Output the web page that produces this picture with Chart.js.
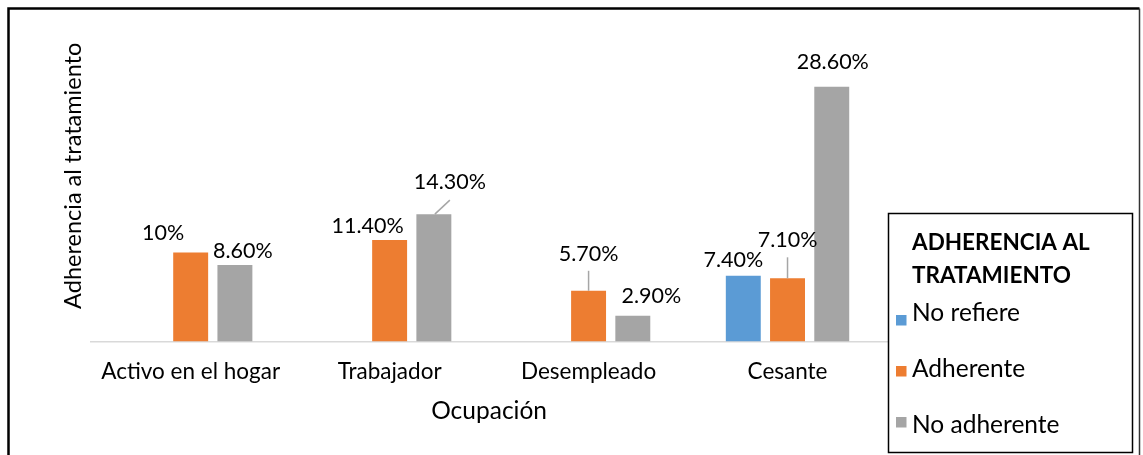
<!DOCTYPE html>
<html>
<head>
<meta charset="utf-8">
<script src="https://cdn.jsdelivr.net/npm/chart.js@4.4.1/dist/chart.umd.min.js"></script>
<style>
html,body{margin:0;padding:0;background:#fff;}
#wrap{position:relative;width:1143px;height:455px;}
</style>
</head>
<body>
<div id="wrap"><canvas id="c" width="1143" height="455"></canvas></div>
<script>
// ---- data ----
const categories = ['Activo en el hogar', 'Trabajador', 'Desempleado', 'Cesante'];
const seriesNames = ['No refiere', 'Adherente', 'No adherente'];
const noRefiere = [null, null, null, 7.4];
const adherente = [10, 11.4, 5.7, 7.1];
const noAdherente = [8.6, 14.3, 2.9, 28.6];
const noRefiereLabels = ['', '', '', '7.40%'];
const adherenteLabels = ['10%', '11.40%', '5.70%', '7.10%'];
const noAdherenteLabels = ['8.60%', '14.30%', '2.90%', '28.60%'];
const legendTitle = ['ADHERENCIA AL', 'TRATAMIENTO'];
const xTitle = 'Ocupación';
const yTitle = 'Adherencia al tratamiento';

// ---- style ----
const FONT = "Lato, 'Open Sans', sans-serif";
const FS = 22.5;      // category labels, legend title
const FS_LBL = 21.5;  // data labels
const FS_XT = 24.5;   // x title
const FS_YT = 23.5;   // y title
const FS_LEG = 24.5;  // legend items
const COLORS = ['#5B9BD5', '#ED7D31', '#A5A5A5'];
// label offsets relative to bar top-centre (dx, dy of baseline), optional leader line
const labelStyle = [
  [null, null, null, {dx: -10, dy: -9}],
  [{dx: -27.5, dy: -12}, {dx: -22, dy: -7}, {dx: 0, dy: -30, leader: [0, 0, 0, -20]}, {dx: 0, dy: -31, leader: [0, 0, 0, -21]}],
  [{dx: 8, dy: -7}, {dx: 16, dy: -25, leader: [1, 0, 16, -14]}, {dx: 18.5, dy: -12.6}, {dx: 1, dy: -18}]
];
const allLabels = [noRefiereLabels, adherenteLabels, noAdherenteLabels];

const decor = {
  id: 'decor',
  beforeDraw(chart) {
    const c = chart.ctx;
    c.save();
    c.fillStyle = '#fff';
    c.fillRect(0, 0, chart.width, chart.height);
    c.strokeStyle = '#000';
    c.lineWidth = 2.5;
    c.beginPath();
    c.moveTo(8.5, chart.height + 2); c.lineTo(8.5, 8.5); c.lineTo(1139.5, 8.5);
    c.stroke();
    c.lineWidth = 1.5;
    c.strokeStyle = '#333';
    c.beginPath();
    c.moveTo(1139.5, 8.5); c.lineTo(1139.5, chart.height + 2);
    c.stroke();
    c.restore();
  },
  afterDatasetsDraw(chart) {
    const c = chart.ctx;
    c.save();
    c.font = FS_LBL + 'px ' + FONT;
    c.fillStyle = '#000';
    c.textAlign = 'center';
    c.textBaseline = 'alphabetic';
    chart.data.datasets.forEach((ds, di) => {
      const meta = chart.getDatasetMeta(di);
      meta.data.forEach((bar, i) => {
        const st = labelStyle[di][i];
        const txt = allLabels[di][i];
        if (!st || !txt || ds.data[i] == null) return;
        if (st.leader) {
          const [x1, y1, x2, y2] = st.leader;
          c.strokeStyle = '#A6A6A6';
          c.lineWidth = 1.5;
          c.beginPath();
          c.moveTo(bar.x + x1, bar.y + y1);
          c.lineTo(bar.x + x2, bar.y + y2);
          c.stroke();
        }
        c.fillText(txt, bar.x + st.dx, bar.y + st.dy);
      });
    });
    c.restore();
  },
  afterDraw(chart) {
    const c = chart.ctx;
    c.save();
    // legend box
    c.fillStyle = '#fff';
    c.fillRect(888, 213, 245, 240);
    c.strokeStyle = '#000';
    c.lineWidth = 1.5;
    c.strokeRect(888.5, 213.5, 244, 239);
    c.fillStyle = '#000';
    c.textAlign = 'left';
    c.textBaseline = 'alphabetic';
    c.font = 'bold ' + FS + 'px ' + FONT;
    c.fillText(legendTitle[0], 912, 250);
    c.fillText(legendTitle[1], 912, 283);
    c.font = FS_LEG + 'px ' + FONT;
    const textY = [320.5, 376.5, 433];
    const boxY = [315, 366, 417];
    chart.data.datasets.forEach((ds, di) => {
      c.fillStyle = ds.backgroundColor;
      c.fillRect(896, boxY[di], 10.5, 10.5);
      c.fillStyle = '#000';
      c.fillText(ds.label, 912, textY[di]);
    });
    c.restore();
  }
};

new Chart(document.getElementById('c'), {
  type: 'bar',
  data: {
    labels: categories,
    datasets: [
      {label: seriesNames[0], data: noRefiere, backgroundColor: COLORS[0]},
      {label: seriesNames[1], data: adherente, backgroundColor: COLORS[1]},
      {label: seriesNames[2], data: noAdherente, backgroundColor: COLORS[2]}
    ]
  },
  options: {
    responsive: false,
    animation: false,
    layout: {padding: {left: 56, right: 256, top: 10, bottom: 26}},
    datasets: {bar: {categoryPercentage: 0.667, barPercentage: 0.79}},
    plugins: {legend: {display: false}, tooltip: {enabled: false}},
    scales: {
      x: {
        grid: {display: false, drawTicks: false},
        border: {display: true, color: '#D9D9D9', width: 1.5},
        ticks: {color: '#000', font: {family: FONT, size: FS}, padding: 17, maxRotation: 0, autoSkip: false},
        title: {display: true, text: xTitle, color: '#000', font: {family: FONT, size: FS_XT}, padding: {top: -6, bottom: 3}}
      },
      y: {
        min: 0, max: 37.2,
        ticks: {display: false},
        grid: {display: false, drawTicks: false},
        border: {display: false},
        title: {display: true, text: yTitle, color: '#000', font: {family: FONT, size: FS_YT}, padding: {top: 3, bottom: 4}}
      }
    }
  },
  plugins: [decor]
});
</script>
</body>
</html>
